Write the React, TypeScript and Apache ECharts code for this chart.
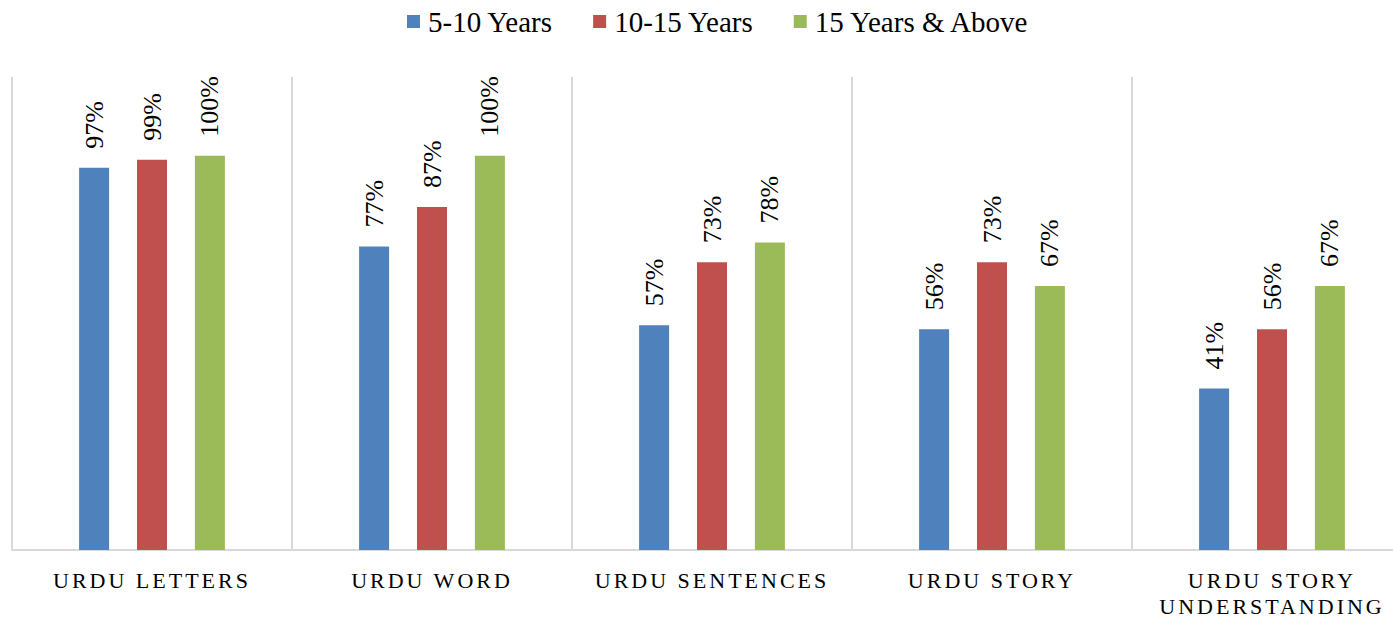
import React, { useEffect, useRef } from "react";
import * as echarts from "echarts";

const categories = [
  "URDU LETTERS",
  "URDU WORD",
  "URDU SENTENCES",
  "URDU STORY",
  "URDU STORY\nUNDERSTANDING",
];
const seriesNames = ["5-10 Years", "10-15 Years", "15 Years & Above"];
const years5to10 = [97, 77, 57, 56, 41];
const years10to15 = [99, 87, 73, 73, 56];
const years15plus = [100, 100, 78, 67, 67];
const colors = ["#4F81BD", "#C0504D", "#9BBB59"];

const FONT = "'Liberation Serif', 'Times New Roman', serif";

export default function App() {
  const ref = useRef<HTMLDivElement>(null);
  useEffect(() => {
    document.body.style.margin = "0";
    const chart = echarts.init(ref.current!, null, { renderer: "svg" });
    const values = [years5to10, years10to15, years15plus];
    chart.setOption({
      animation: false,
      backgroundColor: "#ffffff",
      color: colors,
      legend: {
        top: 2,
        left: 402,
        icon: "rect",
        itemWidth: 13,
        itemHeight: 13,
        itemGap: 40,
        textStyle: {
          fontFamily: FONT,
          fontSize: 29,
          color: "#000",
          padding: [0, 0, 0, 3],
        },
        data: seriesNames,
      },
      grid: {
        left: 12,
        right: 0,
        top: 77,
        bottom: 70,
        containLabel: false,
        outerBoundsMode: "none",
      },
      xAxis: {
        type: "category",
        data: categories,
        boundaryGap: true,
        axisLine: { show: true, lineStyle: { color: "#d9d9d9", width: 2 } },
        axisTick: { show: false },
        splitLine: { show: true, lineStyle: { color: "#d9d9d9", width: 2 } },
        axisLabel: {
          interval: 0,
          margin: 17,
          fontFamily: FONT,
          fontSize: 22,
          lineHeight: 26,
          color: "#000",
        },
      },
      yAxis: {
        type: "value",
        min: 0,
        max: 120,
        show: false,
        splitLine: { show: false },
      },
      series: seriesNames.map((name, i) => ({
        name,
        type: "bar",
        data: values[i],
        barWidth: 30,
        barGap: "93%",
        itemStyle: { color: colors[i] },
        label: {
          show: true,
          position: "top",
          distance: 19,
          rotate: 90,
          align: "left",
          verticalAlign: "middle",
          formatter: "{c}%",
          fontFamily: FONT,
          fontSize: 26,
          color: "#000",
        },
      })),
    });
    const lines = new Set<string>();
    categories.forEach((c) => c.split("\n").forEach((l) => lines.add(l)));
    ref.current!.querySelectorAll("text").forEach((t) => {
      if (lines.has((t.textContent || "").trim())) {
        t.setAttribute("letter-spacing", "3");
      }
    });
    return () => chart.dispose();
  }, []);
  return (
    <div style={{ width: 1393, height: 620, overflow: "hidden" }}>
      <div ref={ref} style={{ width: 1412, height: 620 }} />
    </div>
  );
}
